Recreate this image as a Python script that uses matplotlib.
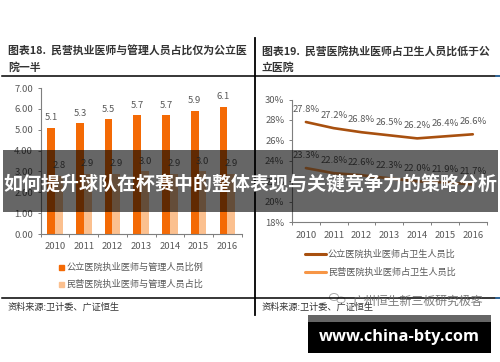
import matplotlib
matplotlib.use("Agg")
import matplotlib.pyplot as plt
from matplotlib.patches import Rectangle, Ellipse

plt.rcParams['font.family'] = ['Noto Sans CJK SC', 'DejaVu Sans']

W, H = 500, 362

YEARS = ["2010", "2011", "2012", "2013", "2014", "2015", "2016"]
PUBLIC_RATIO = [5.1, 5.3, 5.5, 5.7, 5.7, 5.9, 6.1]
PRIVATE_RATIO = [2.8, 2.9, 2.9, 3.0, 2.9, 3.0, 2.9]
PUBLIC_SHARE = [27.8, 27.2, 26.8, 26.5, 26.2, 26.4, 26.6]
PRIVATE_SHARE = [23.3, 22.8, 22.6, 22.3, 22.0, 21.9, 21.7]
LEFT_TICKS = [0, 1, 2, 3, 4, 5, 6, 7]
RIGHT_TICKS = [18, 20, 22, 24, 26, 28, 30]

TITLE_LEFT = ["图表18.  民营执业医师与管理人员占比仅为公立医", "院一半"]
TITLE_RIGHT = ["图表19.  民营医院执业医师占卫生人员比低于公", "立医院"]
LEGEND_LEFT = ["公立医院执业医师与管理人员比例", "民营医院执业医师与管理人员占比"]
LEGEND_RIGHT = ["公立医院执业医师占卫生人员比", "民营医院执业医师占卫生人员比"]
SOURCE = "资料来源:卫计委、广证恒生"
BANNER = "如何提升球队在杯赛中的整体表现与关键竞争力的策略分析"
WATERMARK = "广州恒生新三板研究极客"
URL = "www.china-bty.com"

ORANGE = "#F46A05"
LIGHT = "#FBC08F"
DARK_LINE = "#A8500F"
LIGHT_LINE = "#F79646"
GREY = "#595959"
AXIS = "#7f7f7f"


def make_axes(fig, left, top, right, bottom):
    # pixel box of the plot area -> figure fractions
    return fig.add_axes([left / W, 1 - bottom / H, (right - left) / W, (bottom - top) / H])


def style_axes(ax):
    for s in ["top", "right"]:
        ax.spines[s].set_visible(False)
    for s in ["left", "bottom"]:
        ax.spines[s].set_color(AXIS)
        ax.spines[s].set_linewidth(0.8)
    ax.set_xlim(-0.5, 6.5)
    ax.set_xticks(range(len(YEARS)), YEARS)
    ax.set_xticks([i - 0.5 for i in range(len(YEARS) + 1)], minor=True)
    ax.tick_params(axis="x", which="major", length=0, labelsize=6.8, labelcolor=GREY, pad=6)
    ax.tick_params(axis="x", which="minor", length=2.5, color=AXIS, width=0.7)
    ax.tick_params(axis="y", length=2.5, color=AXIS, width=0.7, labelsize=6.8, labelcolor=GREY, pad=3)
    ax.patch.set_alpha(0)


fig = plt.figure(figsize=(W / 100, H / 100), dpi=100, facecolor="white")

# bar panel
ax1 = make_axes(fig, 40.7, 88, 241.7, 234)
style_axes(ax1)
bar_w = 0.27
xs = list(range(len(YEARS)))
ax1.bar([x - bar_w / 2 for x in xs], PUBLIC_RATIO, bar_w, color=ORANGE)
ax1.bar([x + bar_w / 2 for x in xs], PRIVATE_RATIO, bar_w, color=LIGHT)
ax1.set_ylim(0, 7)
ax1.set_yticks(LEFT_TICKS, [f"{v:.2f}" for v in LEFT_TICKS])
for x, v in zip(xs, PUBLIC_RATIO):
    ax1.annotate(f"{v:.1f}", (x - bar_w / 2, v), xytext=(0, 7.2), textcoords="offset points",
                 ha="center", va="center", fontsize=6.8, color=GREY)
for x, v in zip(xs, PRIVATE_RATIO):
    ax1.annotate(f"{v:.1f}", (x + bar_w / 2, v), xytext=(0, 7.2), textcoords="offset points",
                 ha="center", va="center", fontsize=6.8, color=GREY)

# line panel
ax2 = make_axes(fig, 292, 99.5, 486.7, 222.3)
style_axes(ax2)
ax2.plot(xs, PUBLIC_SHARE, color=DARK_LINE, lw=1.9, solid_capstyle="round")
ax2.plot(xs, PRIVATE_SHARE, color=LIGHT_LINE, lw=1.9, solid_capstyle="round")
ax2.set_ylim(18, 30)
ax2.set_yticks(RIGHT_TICKS, [f"{v}%" for v in RIGHT_TICKS])
for series in (PUBLIC_SHARE, PRIVATE_SHARE):
    for x, v in zip(xs, series):
        ax2.annotate(f"{v:.1f}%", (x, v), xytext=(0, 9), textcoords="offset points",
                     ha="center", va="center", fontsize=6.8, color=GREY)

# page furniture, in pixel coordinates
page = fig.add_axes([0, 0, 1, 1], zorder=5)
page.set_xlim(0, W)
page.set_ylim(H, 0)
page.axis("off")

page.plot([2, W], [75.7, 75.7], color="black", lw=1.1)
page.plot([2, W], [298, 298], color="black", lw=1.1)
page.plot([496, W], [75.7, 75.7], color="#2E75B6", lw=1.1)
page.plot([496, W], [298, 298], color="#2E75B6", lw=1.1)
page.plot([255, 255], [38, 315], color="black", lw=1.3)

for x0, lines in ((8, TITLE_LEFT), (262, TITLE_RIGHT)):
    for y, line in zip((51, 67), lines):
        page.text(x0, y, line, fontsize=7.85, fontweight="bold", color="#333333", ha="left", va="center")

for y, label, c in zip((267, 284), LEGEND_LEFT, (ORANGE, LIGHT)):
    page.add_patch(Rectangle((58.5, y - 2.5), 5, 5, color=c))
    page.text(66.5, y, label, fontsize=6.6, color=GREY, ha="left", va="center")
for y, label, c in zip((254, 272), LEGEND_RIGHT, (DARK_LINE, LIGHT_LINE)):
    page.plot([305, 326], [y, y], color=c, lw=2.2, solid_capstyle="round")
    page.text(328, y, label, fontsize=6.6, color=GREY, ha="left", va="center")

page.text(8, 307, SOURCE, fontsize=6.6, color="#333333", ha="left", va="center")
page.text(262, 307, SOURCE, fontsize=6.6, color="#333333", ha="left", va="center")

# watermark with its small chat icon
page.add_patch(Ellipse((334, 297), 9, 7, fc="none", ec="#aaaaaa", lw=0.7))
page.add_patch(Ellipse((341, 300), 8, 6, fc="none", ec="#aaaaaa", lw=0.7))
page.text(353, 301, WATERMARK, fontsize=8.6, color="#666666", alpha=0.85, ha="left", va="center")

page.add_patch(Rectangle((3, 150), 495, 62, color="black", alpha=0.6, lw=0))
page.text(250, 185, BANNER, fontsize=13.65, fontweight="bold", color="white", ha="center", va="center")

page.add_patch(Rectangle((308, 315), 183, 7, color="#666666", lw=0))
page.add_patch(Rectangle((308, 322), 183, 31, color="black", lw=0))
page.text(399.5, 337, URL, fontsize=11.8, fontweight="bold", color="white", ha="center", va="center",
          family="Open Sans")

fig.savefig("out.png", dpi=100)
